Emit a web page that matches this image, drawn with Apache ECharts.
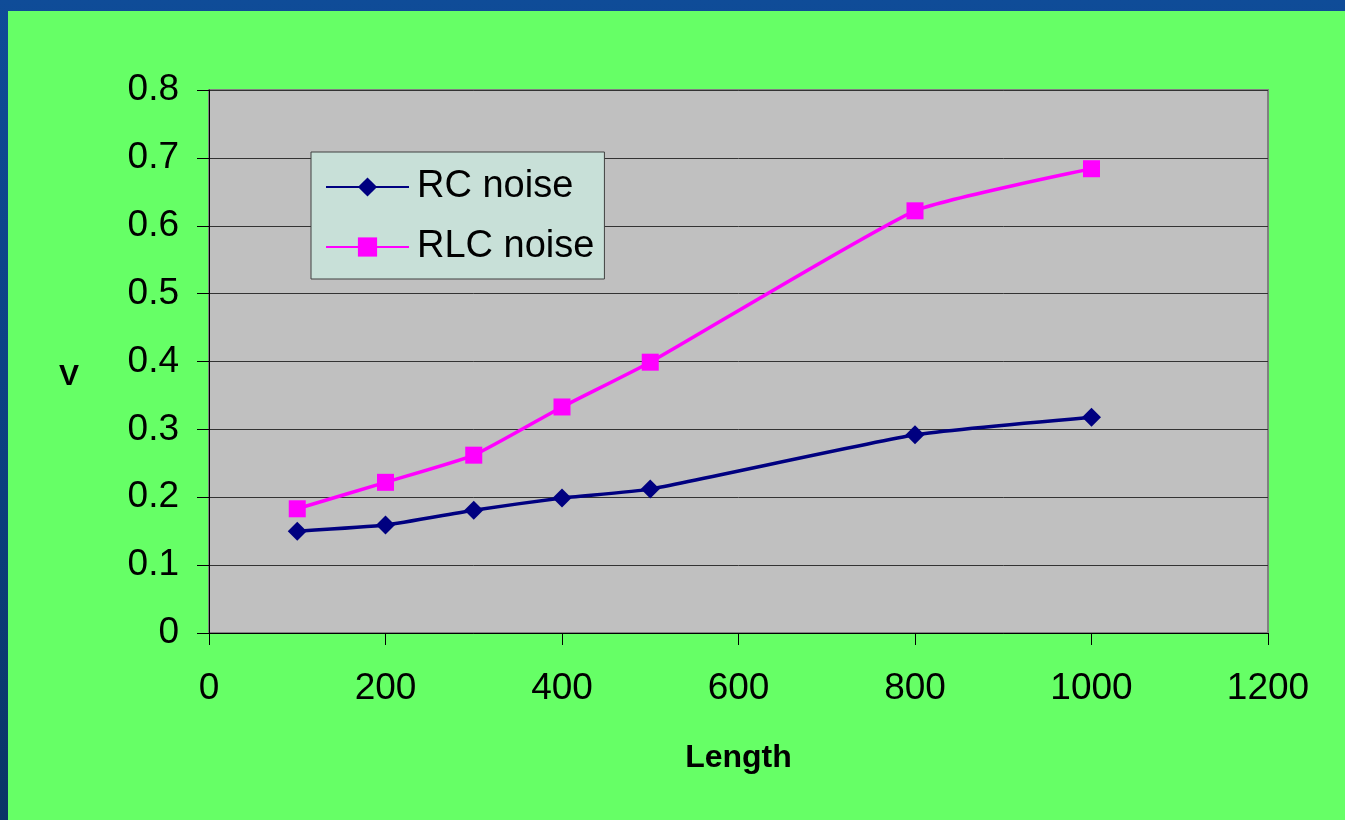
<!DOCTYPE html>
<html>
<head>
<meta charset="utf-8">
<title>RC / RLC noise vs length</title>
<script src="https://cdn.jsdelivr.net/npm/echarts@6/dist/echarts.min.js"></script>
<style>
  html, body {
    margin: 0;
    padding: 0;
    width: 1345px;
    height: 820px;
    overflow: hidden;
    background: linear-gradient(180deg, #0f4c98 0%, #0b3f7e 60%, #0a3566 100%);
  }
  #chart {
    position: absolute;
    left: 8px;
    top: 11px;
    width: 1337px;
    height: 809px;
    background: #66ff66;
  }
</style>
</head>
<body>
<div id="chart"></div>
<script>
// line lengths (x) and measured noise (V)
const lengths = [100, 200, 300, 400, 500, 800, 1000]
const rcNoise = [0.150, 0.159, 0.181, 0.199, 0.212, 0.292, 0.318]
const rlcNoise = [0.183, 0.222, 0.262, 0.333, 0.399, 0.622, 0.684]

const chart = echarts.init(document.getElementById('chart'))

const font = 'Liberation Sans, Arial, sans-serif'

chart.setOption({
  animation: false,
  textStyle: { fontFamily: font },
  grid: {
    left: 201,
    top: 79,
    right: 77,
    bottom: 187,
    show: true,
    backgroundColor: '#c0c0c0',
    borderColor: '#808080',
    borderWidth: 2
  },
  legend: {
    orient: 'vertical',
    left: 303,
    top: 141,
    padding: [16, 10, 13, 14],
    itemGap: 22,
    itemWidth: 83,
    itemHeight: 24,
    backgroundColor: '#c8e0d8',
    borderColor: '#404040',
    borderWidth: 1,
    textStyle: { fontSize: 38, color: '#000', fontFamily: font, padding: [0, 0, 0, 3] },
    data: ['RC noise', 'RLC noise']
  },
  xAxis: {
    type: 'value',
    min: 0,
    max: 1200,
    interval: 200,
    name: 'Length',
    nameLocation: 'middle',
    nameGap: 109,
    nameMoveOverlap: false,
    nameTextStyle: { fontSize: 32, fontWeight: 'bold', color: '#000', fontFamily: font },
    axisLine: { lineStyle: { color: '#000', width: 1 } },
    axisTick: { show: true, length: 12, lineStyle: { color: '#000' } },
    axisLabel: { fontSize: 37, color: '#000', margin: 37, formatter: v => String(v) },
    splitLine: { show: false }
  },
  yAxis: {
    type: 'value',
    min: 0,
    max: 0.8,
    interval: 0.1,
    name: 'V',
    nameLocation: 'middle',
    nameRotate: 0,
    nameGap: 130,
    nameMoveOverlap: false,
    nameTextStyle: { fontSize: 30, fontWeight: 'bold', color: '#000', fontFamily: font, verticalAlign: 'top' },
    axisLine: { show: true, lineStyle: { color: '#000', width: 1 } },
    axisTick: { show: true, length: 12, lineStyle: { color: '#000' } },
    axisLabel: { fontSize: 37, color: '#000', margin: 30 },
    splitLine: { show: true, lineStyle: { color: '#333', width: 1 } }
  },
  series: [
    {
      name: 'RC noise',
      type: 'line',
      smooth: 0.15,
      data: lengths.map((x, i) => [x, rcNoise[i]]),
      symbol: 'diamond',
      symbolSize: 19,
      lineStyle: { color: '#000080', width: 3.5 },
      itemStyle: { color: '#000080' }
    },
    {
      name: 'RLC noise',
      type: 'line',
      smooth: 0.15,
      data: lengths.map((x, i) => [x, rlcNoise[i]]),
      symbol: 'rect',
      symbolSize: 17,
      lineStyle: { color: '#ff00ff', width: 3.5 },
      itemStyle: { color: '#ff00ff' }
    }
  ]
})
</script>
</body>
</html>
